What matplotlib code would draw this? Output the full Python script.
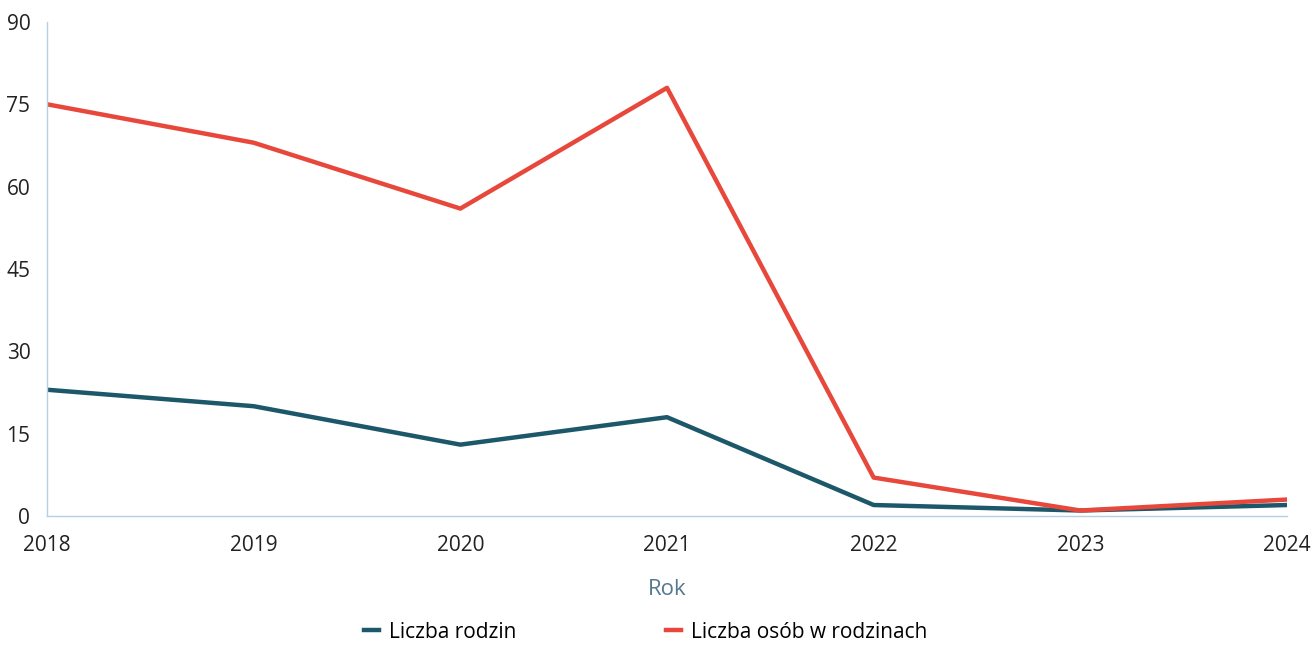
import matplotlib.pyplot as plt

years = [2018, 2019, 2020, 2021, 2022, 2023, 2024]
rodziny = [23, 20, 13, 18, 2, 1, 2]
osoby = [75, 68, 56, 78, 7, 1, 3]
yticks = [0, 15, 30, 45, 60, 75, 90]

plt.rcParams['font.family'] = ['Open Sans', 'DejaVu Sans']

fig = plt.figure(figsize=(13.13, 6.45), dpi=100)
ax = fig.add_axes([0.0358, 0.2, 0.9444, 0.766])

ax.plot(years, rodziny, color="#1c5869", lw=3.2, label="Liczba rodzin")
ax.plot(years, osoby, color="#e8483b", lw=3.2, label="Liczba osób w rodzinach")

ax.set_xlim(2018, 2024)
ax.set_ylim(0, 90)
ax.set_yticks(yticks)
ax.set_xticks(years)
for s in ["top", "right"]:
    ax.spines[s].set_visible(False)
for s in ["left", "bottom"]:
    ax.spines[s].set_color("#b5cfe3")
    ax.spines[s].set_linewidth(1)
ax.tick_params(length=0, labelsize=15, colors="#222222")
ax.tick_params(axis="y", pad=12)
ax.tick_params(axis="x", pad=14)
ax.set_xlabel("Rok", fontsize=16, color="#557890", labelpad=16)

fig.legend(loc="center", bbox_to_anchor=(0.492, 1 - 632 / 645), ncol=2, frameon=False,
           fontsize=15, handlelength=0.7, columnspacing=7.2, handletextpad=0.5,
           borderpad=0)

fig.savefig("out.png")
